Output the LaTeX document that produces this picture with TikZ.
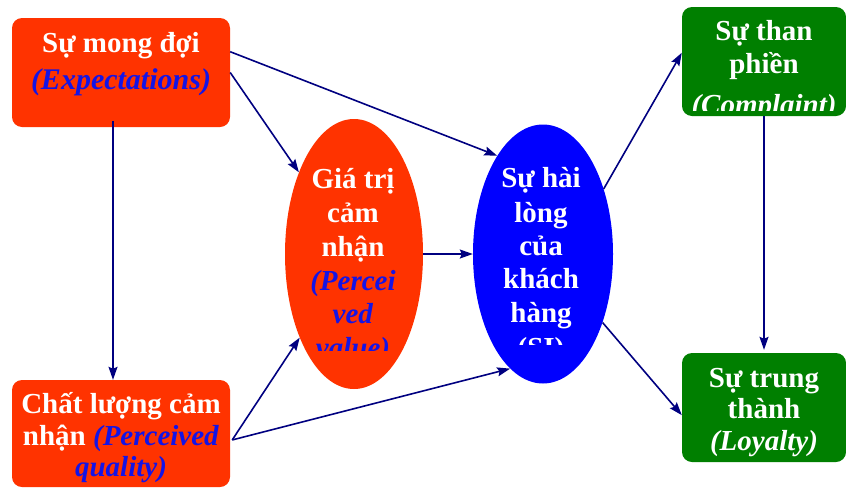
\documentclass[tikz,border=0pt]{standalone}
\usepackage{fontspec}
\setmainfont{Liberation Serif}
\usetikzlibrary{arrows.meta,calc,shapes.geometric}
\definecolor{boxred}{HTML}{FF3300}
\definecolor{boxgreen}{HTML}{007F00}
\definecolor{elblue}{HTML}{0000FF}
\definecolor{navyline}{HTML}{000080}
\definecolor{itblue}{HTML}{1414E6}
\tikzset{
  rbox/.style={rectangle, rounded corners=10pt, minimum width=218pt, minimum height=109pt, inner sep=0pt},
  gbox/.style={rectangle, rounded corners=10pt, fill=boxgreen, minimum width=164pt, minimum height=109pt, inner sep=0pt},
  oval/.style={ellipse, inner sep=0pt},
  txt/.style={anchor=base, inner sep=0pt, text=white, font=\fontsize{29}{33}\selectfont\bfseries},
  conn/.style={navyline, line width=1.6pt, -{Stealth[length=13pt,width=9pt,inset=2pt]}},
}
\newcommand{\itb}[1]{\textcolor{itblue}{\textit{#1}}}
\begin{document}
\begin{tikzpicture}[x=1pt,y=-1pt]
\useasboundingbox (0,0) rectangle (846,488);
% shapes
\node[rbox, fill=boxred] (exp) at (121,72.5) {};
\node[rbox, fill=boxred, minimum height=107pt] (pq) at (121,433.5) {};
\node[oval, fill=boxred, minimum width=138pt, minimum height=270pt] (pv) at (354,254) {};
\node[oval, fill=elblue, minimum width=140pt, minimum height=259pt] (si) at (543,254) {};
\node[gbox] (comp) at (764,61.5) {};
\node[gbox] (loy) at (764,407.5) {};
% texts
\node[txt] (e1) at (121,52) {Sự mong đợi};
\node[txt, font=\fontsize{30}{33}\selectfont\bfseries] (e2) at (121,89) {\itb{(Expectations)}};
\node[txt] (q1) at (121,413) {Chất lượng cảm};
\node[txt] (q2) at (121,445) {nhận \itb{(Perceived}};
\node[txt] (q3) at (121,476) {\itb{quality)}};
\begin{scope}
\clip (280,100) rectangle (430,350);
\node[txt] (v1) at (353,188) {Giá trị};
\node[txt] (v2) at (353,222) {cảm};
\node[txt] (v3) at (353,256) {nhận};
\node[txt] (v4) at (353,290) {\itb{(Percei}};
\node[txt] (v5) at (353,323) {\itb{ved}};
\node[txt] (v6) at (353,357) {\itb{value)}};
\end{scope}
\begin{scope}
\clip (470,100) rectangle (615,344);
\node[txt] (s1) at (541,187) {Sự hài};
\node[txt] (s2) at (541,222) {lòng};
\node[txt] (s3) at (541,255) {của};
\node[txt] (s4) at (541,288) {khách};
\node[txt] (s5) at (541,322) {hàng};
\node[txt] (s6) at (541,357) {(SI)};
\end{scope}
\begin{scope}
\clip (682,0) rectangle (846,110);
\node[txt] (c1) at (764,40) {Sự than};
\node[txt] (c2) at (764,73) {phiền};
\node[txt] (c3) at (764,114) {\textit{(Complaint)}};
\end{scope}
\node[txt] (l1) at (764,387) {Sự trung};
\node[txt] (l2) at (764,418) {thành};
\node[txt] (l3) at (764,450) {\textit{(Loyalty)}};
% connectors
\draw[conn] ($(exp.north east)!0.31!(exp.south east)$) -- (si.115);
\draw[conn] (exp.east) -- (pv.124);
\draw[conn] ($(exp.south)+(-8,-6)$) -- ($(pq.north)+(-8,0)$);
\draw[conn] ($(pq.north east)!0.56!(pq.south east)+(2,0)$) -- (pv.237);
\draw[conn] ($(pq.north east)!0.56!(pq.south east)+(2,0)$) -- (si.254);
\draw[conn] (pv.east) -- (si.west);
\draw[conn] (si.47) -- ($(comp.north west)!0.42!(comp.south west)$);
\draw[conn] (si.-49) -- ($(loy.north west)!0.57!(loy.south west)$);
\draw[conn] (comp.south) -- ($(loy.north)+(0,-3)$);
\end{tikzpicture}
\end{document}
